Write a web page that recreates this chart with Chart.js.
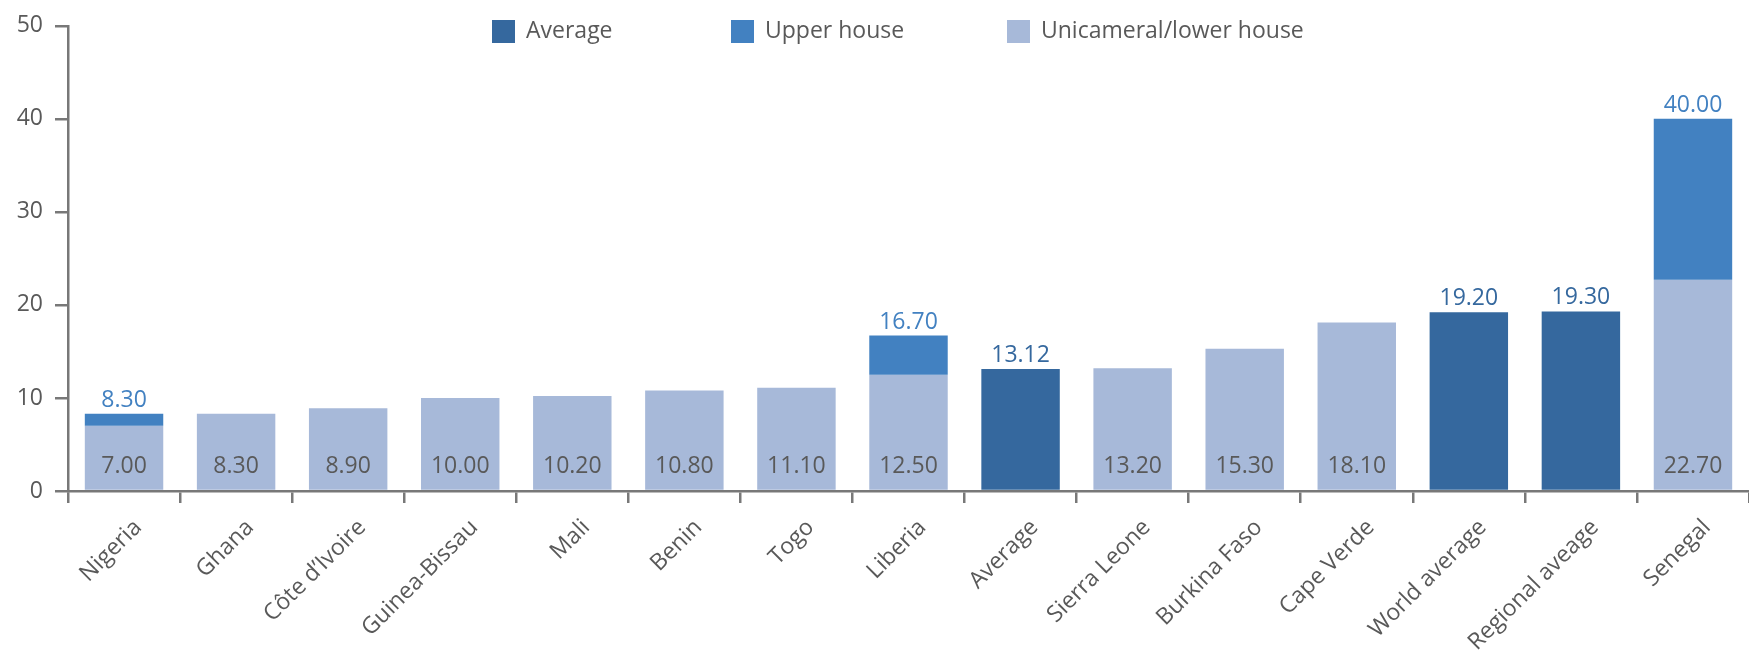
<!DOCTYPE html>
<html><head><meta charset="utf-8">
<script src="https://cdn.jsdelivr.net/npm/chart.js@4.4.1/dist/chart.umd.min.js"></script>
<style>html,body{margin:0;padding:0;background:#fff}#wrap{width:1749px;height:651px;position:relative}</style>
</head><body><div id="wrap"><canvas id="c" width="1749" height="651"></canvas></div>
<script>
const categories = ["Nigeria","Ghana","Côte d’Ivoire","Guinea-Bissau","Mali","Benin","Togo","Liberia","Average","Sierra Leone","Burkina Faso","Cape Verde","World average","Regional aveage","Senegal"];
const lowerHouse =      [7.00, 8.30, 8.90, 10.00, 10.20, 10.80, 11.10, 12.50, null, 13.20, 15.30, 18.10, null, null, 22.70];
const upperHouseTotal = [8.30, null, null, null,  null,  null,  null,  16.70, null, null,  null,  null,  null, null, 40.00];
const averages =        [null, null, null, null,  null,  null,  null,  null,  13.12, null, null,  null,  19.20, 19.30, null];
const seriesNames = ["Average", "Upper house", "Unicameral/lower house"];
const yTicks = [0, 10, 20, 30, 40, 50];

const FONT = "'Open Sans', 'Noto Sans', sans-serif";
const TEXT = "#595959";
const AXIS = "#787878";
const COLORS = ["#35689e", "#4281c1", "#a7b9d9"];

const upperFloating = upperHouseTotal.map((t, i) => t == null ? null : [lowerHouse[i], t]);

const labelPlugin = {
  id: 'valueLabels',
  afterDatasetsDraw(chart) {
    const ctx = chart.ctx;
    ctx.save();
    ctx.font = "23px " + FONT;
    ctx.textAlign = 'center';
    ctx.textBaseline = 'alphabetic';
    chart.getDatasetMeta(2).data.forEach((bar, i) => {
      const v = lowerHouse[i];
      if (v == null) return;
      ctx.fillStyle = TEXT;
      ctx.fillText(v.toFixed(2), bar.x, bar.base - 17);
    });
    chart.getDatasetMeta(1).data.forEach((bar, i) => {
      const v = upperHouseTotal[i];
      if (v == null) return;
      ctx.fillStyle = COLORS[1];
      ctx.fillText(v.toFixed(2), bar.x, bar.y - 7);
    });
    chart.getDatasetMeta(0).data.forEach((bar, i) => {
      const v = averages[i];
      if (v == null) return;
      ctx.fillStyle = COLORS[0];
      ctx.fillText(v.toFixed(2), bar.x, bar.y - 7);
    });
    ctx.restore();
  }
};

const legendPlugin = {
  id: 'customLegend',
  afterDraw(chart) {
    const ctx = chart.ctx;
    const xs = [492, 731, 1007];
    ctx.save();
    ctx.font = "23px " + FONT;
    ctx.textBaseline = 'middle';
    ctx.textAlign = 'left';
    chart.data.datasets.forEach((ds, i) => {
      ctx.fillStyle = ds.backgroundColor;
      ctx.fillRect(xs[i], 20, 23, 23);
      ctx.fillStyle = TEXT;
      ctx.fillText(ds.label, xs[i] + 34, 31);
    });
    ctx.restore();
  }
};

new Chart(document.getElementById('c'), {
  type: 'bar',
  data: {
    labels: categories,
    datasets: [
      { label: seriesNames[0], data: averages, backgroundColor: COLORS[0], barPercentage: 0.7, categoryPercentage: 1.0 },
      { label: seriesNames[1], data: upperFloating, backgroundColor: COLORS[1], barPercentage: 0.7, categoryPercentage: 1.0 },
      { label: seriesNames[2], data: lowerHouse, backgroundColor: COLORS[2], barPercentage: 0.7, categoryPercentage: 1.0 }
    ]
  },
  options: {
    responsive: false,
    devicePixelRatio: 1,
    animation: false,
    layout: { padding: { top: 24, right: 0, left: 0, bottom: 0 } },
    plugins: { legend: { display: false }, tooltip: { enabled: false } },
    scales: {
      x: {
        stacked: true,
        grid: { offset: true, drawOnChartArea: false, drawTicks: true, tickLength: 12, color: AXIS, lineWidth: 2.5 },
        border: { display: true, color: AXIS, width: 2.5 },
        ticks: { minRotation: 45, maxRotation: 45, autoSkip: false, padding: 11, labelOffset: 14, color: TEXT, font: { family: FONT, size: 23 } },
        afterFit(s) { s.height = 160; }
      },
      y: {
        stacked: false,
        min: yTicks[0], max: yTicks[yTicks.length - 1],
        afterBuildTicks(s) { s.ticks = yTicks.map(v => ({ value: v })); },
        grid: { drawOnChartArea: false, drawTicks: true, tickLength: 13, color: AXIS, lineWidth: 2.5 },
        border: { display: true, color: AXIS, width: 2.5 },
        ticks: { padding: 12, color: TEXT, font: { family: FONT, size: 23 } },
        afterFit(s) { s.width = 68; }
      }
    }
  },
  plugins: [labelPlugin, legendPlugin]
});
</script>
</body></html>
